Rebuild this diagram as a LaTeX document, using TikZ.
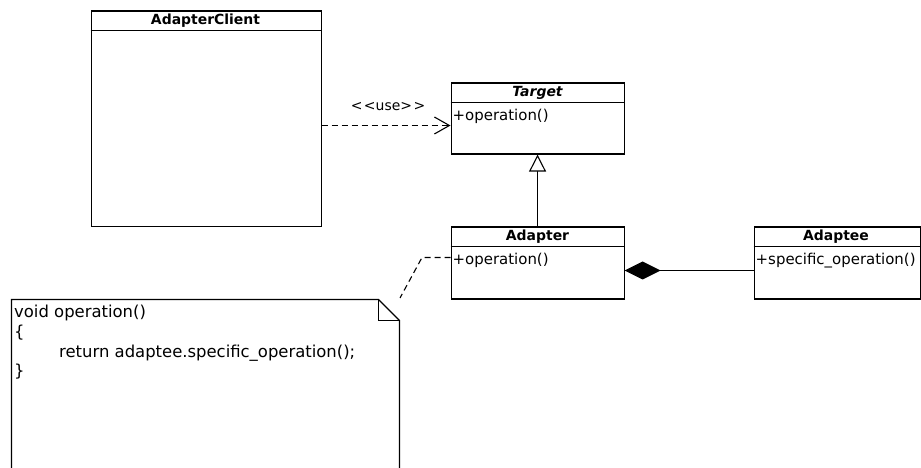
\documentclass[tikz,border=0pt]{standalone}
\usepackage{fontspec}
\setmainfont{DejaVu Sans}
\usetikzlibrary{arrows.meta}
\begin{document}
\begin{tikzpicture}[x=1bp,y=-1bp,
  box/.style={draw, line width=1.1bp, inner sep=0pt, anchor=north west},
  title/.style={font=\fontsize{14}{16}\selectfont\bfseries, inner sep=0pt},
  member/.style={font=\fontsize{15}{17}\selectfont, anchor=west, inner sep=0pt},
  notetext/.style={font=\fontsize{16.5}{19}\selectfont, anchor=west, inner sep=0pt},
  dep/.style={line width=1.1bp, dash pattern=on 6bp off 4bp},
  solidline/.style={line width=1.1bp}]
\useasboundingbox (0,0) rectangle (921,468);

% AdapterClient
\node[box, minimum width=230bp, minimum height=215bp] (client) at (90.5,10.5) {};
\draw[solidline] (client.north west) ++(0,20) -- ++(230,0);
\node[title] (clientT) at (205.5,21) {AdapterClient};

% Target
\node[box, minimum width=173bp, minimum height=71bp] (target) at (450.5,82.5) {};
\draw[solidline] (target.north west) ++(0,20) -- ++(173,0);
\node[title, font=\fontsize{14}{16}\selectfont\bfseries\itshape] (targetT) at (537.5,93) {Target};
\node[member] (targetM) at (452.5,116.5) {+operation()};

% Adapter
\node[box, minimum width=173bp, minimum height=72bp] (adapter) at (450.5,226.5) {};
\draw[solidline] (adapter.north west) ++(0,20) -- ++(173,0);
\node[title] (adapterT) at (537.5,237) {Adapter};
\node[member] (adapterM) at (452.5,260) {+operation()};

% Adaptee
\node[box, minimum width=166bp, minimum height=72bp] (adaptee) at (753.5,226.5) {};
\draw[solidline] (adaptee.north west) ++(0,20) -- ++(166,0);
\node[title] (adapteeT) at (836,237) {Adaptee};
\node[member] (adapteeM) at (755.5,260.5) {+specific\_operation()};

% Note
\draw[solidline] (11.5,468) -- (11.5,299.5) -- (378.5,299.5) -- (399.5,320.5) -- (399.5,468);
\draw[solidline] (378.5,299.5) -- (378.5,320.5) -- (399.5,320.5);
\coordinate (noteNE) at (400,298);
\node[notetext] (n1) at (14,313) {void operation()};
\node[notetext] (n2) at (14,333) {\{};
\node[notetext] (n3) at (59,353) {return adaptee.specific\_operation();};
\node[notetext] (n4) at (14,372) {\}};

% use dependency
\coordinate (u1) at (client.east |- 0,125.5);
\draw[dep, -{Straight Barb[length=15bp,width=17bp,line width=1.1bp]}] (u1) -- (u1 -| target.west);
\node[font=\fontsize{14}{16}\selectfont, inner sep=0pt] (uselbl) at (388,107) {<\kern1.5pt<use>\kern1.5pt>};

% generalization
\draw[solidline, -{Triangle[open,length=17bp,width=17bp,fill=white]}] (adapter.north) -- (target.south);

% composition
\coordinate (c1) at (adapter.east |- 0,270.5);
\draw[solidline, {Diamond[length=36bp,width=18bp]}-] (c1) -- (c1 -| adaptee.west);

% note anchor
\coordinate (bend) at (422,257.5);
\draw[dep] (bend -| adapter.west) -- (bend) -- (noteNE);
\end{tikzpicture}
\end{document}
